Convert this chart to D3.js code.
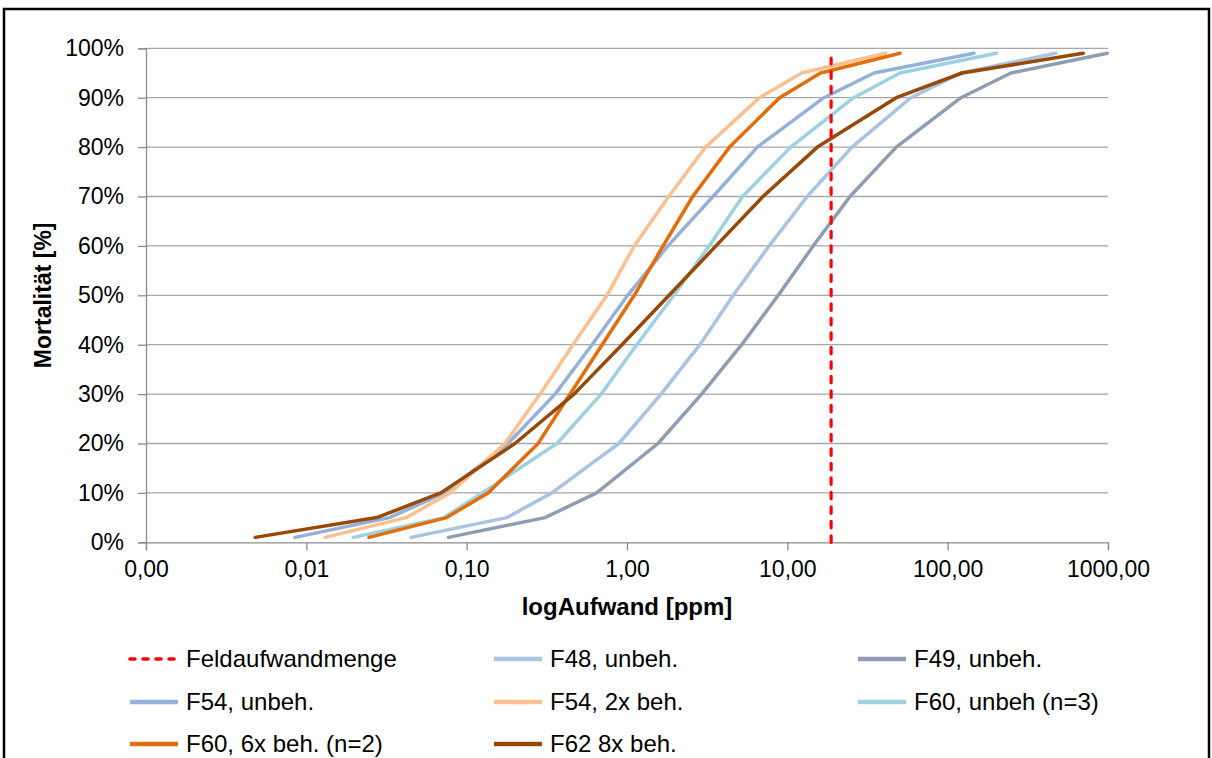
<!DOCTYPE html>
<html>
<head>
<meta charset="utf-8">
<script src="https://cdn.jsdelivr.net/npm/d3@7"></script>
<style>
  html, body { margin: 0; padding: 0; background: #ffffff; }
  svg { display: block; }
  text { font-family: "Liberation Sans", Arial, sans-serif; fill: #000; }
</style>
</head>
<body>
<svg id="chart" width="1212" height="758"></svg>
<script>
// Mortality levels (fraction) at which the dose for each population is given
const mortality = [0.01, 0.05, 0.10, 0.20, 0.30, 0.40, 0.50, 0.60, 0.70, 0.80, 0.90, 0.95, 0.99];

// Dose in ppm per mortality level
const f48Unbeh   = [0.045, 0.178, 0.34, 0.89, 1.63, 2.85, 4.6, 7.7, 13.3, 25.3, 59, 121, 471];
const f49Unbeh   = [0.077, 0.308, 0.647, 1.56, 2.92, 5.19, 8.78, 14.5, 24.6, 47.8, 121, 248, 990];
const f54Unbeh   = [0.0085, 0.033, 0.073, 0.181, 0.356, 0.605, 1.01, 1.80, 3.44, 6.5, 16.9, 34.7, 146];
const f54Beh2x   = [0.0131, 0.042, 0.079, 0.173, 0.287, 0.46, 0.75, 1.11, 1.82, 3.09, 6.7, 12.3, 40.8];
const f60Unbeh   = [0.0196, 0.072, 0.125, 0.366, 0.69, 1.15, 1.96, 3.25, 5.26, 10.5, 25.9, 50.4, 201];
const f60Beh6x   = [0.0246, 0.075, 0.136, 0.279, 0.441, 0.70, 1.11, 1.68, 2.57, 4.36, 8.95, 16.1, 50.4];
const f62Beh8x   = [0.0048, 0.0275, 0.069, 0.20, 0.467, 0.93, 1.83, 3.59, 7.05, 15.4, 47.8, 123, 700];

// Field application rate (ppm), drawn as a vertical reference line
const feldDose = [18.75, 18.75];
const feldMort = [0, 0.98];

const seriesNames = ["F48, unbeh.", "F49, unbeh.", "F54, unbeh.", "F54, 2x beh.",
                     "F60, unbeh (n=3)", "F60, 6x beh. (n=2)", "F62 8x beh."];
const seriesDoses = [f48Unbeh, f49Unbeh, f54Unbeh, f54Beh2x, f60Unbeh, f60Beh6x, f62Beh8x];
const seriesColors = ["#A9C3E3", "#8E9EB2", "#93B1D9", "#FAC08F", "#9CD2DF", "#E46C0A", "#984807"];

const xTicks = [0.001, 0.01, 0.1, 1, 10, 100, 1000];
const yTicks = [0, 0.1, 0.2, 0.3, 0.4, 0.5, 0.6, 0.7, 0.8, 0.9, 1.0];

const svg = d3.select("#chart");

// outer frame
svg.append("rect")
  .attr("x", 4).attr("y", 9).attr("width", 1205).attr("height", 800)
  .attr("fill", "none").attr("stroke", "#000").attr("stroke-width", 2.5);

const x = d3.scaleLog().domain([0.001, 1000]).range([146, 1108]);
const y = d3.scaleLinear().domain([0, 1]).range([542.3, 48.3]);

const de = d3.formatLocale({ decimal: ",", thousands: ".", grouping: [3], currency: ["", " €"] });
const fmtX = de.format(".2f");
const fmtY = d3.format(".0%");

// horizontal gridlines
svg.append("g").selectAll("line")
  .data(yTicks.filter(d => d > 0))
  .join("line")
  .attr("x1", x(0.001)).attr("x2", x(1000))
  .attr("y1", d => y(d)).attr("y2", d => y(d))
  .attr("stroke", "#A6A6A6").attr("stroke-width", 1.3);

// y axis
const yAxis = svg.append("g")
  .attr("transform", `translate(${x(0.001)},0)`)
  .call(d3.axisLeft(y).tickValues(yTicks).tickFormat(fmtY).tickSize(8).tickPadding(14));
yAxis.select(".domain").attr("stroke", "#8C8C8C").attr("stroke-width", 1.3);
yAxis.selectAll(".tick line").attr("stroke", "#8C8C8C").attr("stroke-width", 1.3);
yAxis.selectAll(".tick text")
  .style("font-family", "Liberation Sans, Arial, sans-serif")
  .style("font-size", "23px").attr("fill", "#000");

// x axis
const xAxis = svg.append("g")
  .attr("transform", `translate(0,${y(0)})`)
  .call(d3.axisBottom(x).tickValues(xTicks).tickFormat(fmtX).tickSize(8).tickPadding(10));
xAxis.select(".domain").attr("stroke", "#8C8C8C").attr("stroke-width", 1.3);
xAxis.selectAll(".tick line").attr("stroke", "#8C8C8C").attr("stroke-width", 1.3);
xAxis.selectAll(".tick text")
  .style("font-family", "Liberation Sans, Arial, sans-serif")
  .style("font-size", "23px").attr("fill", "#000");

// axis titles
svg.append("text")
  .attr("x", 627).attr("y", 615)
  .attr("text-anchor", "middle")
  .style("font-size", "24px").style("font-weight", "bold")
  .text("logAufwand [ppm]");

svg.append("text")
  .attr("transform", `translate(51,${(y(0) + y(1)) / 2}) rotate(-90)`)
  .attr("text-anchor", "middle")
  .style("font-size", "23px").style("font-weight", "bold")
  .text("Mortalität [%]");

// dose–response curves
const line = d3.line().x(d => x(d[0])).y(d => y(d[1]));

const curves = svg.append("g");
seriesDoses.forEach((doses, i) => {
  curves.append("path")
    .datum(doses.map((v, k) => [v, mortality[k]]))
    .attr("d", line)
    .attr("fill", "none")
    .attr("stroke", seriesColors[i])
    .attr("stroke-width", 3.5)
    .attr("stroke-linejoin", "round")
    .attr("stroke-linecap", "round");
});

// field application rate
svg.append("path")
  .datum(feldDose.map((v, k) => [v, feldMort[k]]))
  .attr("d", line)
  .attr("fill", "none")
  .attr("stroke", "#FF0000")
  .attr("stroke-width", 3.2)
  .attr("stroke-linecap", "round")
  .attr("stroke-dasharray", "6.5,8");

// legend
const legendItems = [{ name: "Feldaufwandmenge", color: "#FF0000", dashed: true }]
  .concat(seriesNames.map((n, i) => ({ name: n, color: seriesColors[i], dashed: false })));

const colX = [128, 492, 856];
const rowY = [659, 702, 744];

const leg = svg.append("g");
legendItems.forEach((it, i) => {
  const cx = colX[i % 3], cy = rowY[Math.floor(i / 3)];
  leg.append("line")
    .attr("x1", cx + 2).attr("x2", cx + 50)
    .attr("y1", cy).attr("y2", cy)
    .attr("stroke", it.color)
    .attr("stroke-width", it.dashed ? 3.5 : 4.5)
    .attr("stroke-linecap", it.dashed ? "round" : "butt")
    .attr("stroke-dasharray", it.dashed ? "5,8" : null);
  leg.append("text")
    .attr("x", cx + 58).attr("y", cy)
    .attr("dy", "0.35em")
    .style("font-size", "24px")
    .text(it.name);
});
</script>
</body>
</html>
